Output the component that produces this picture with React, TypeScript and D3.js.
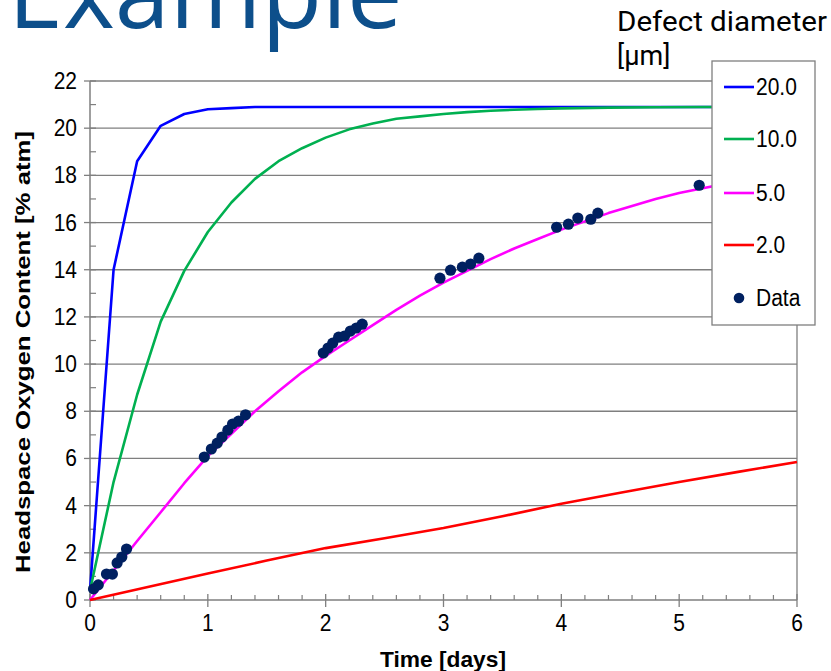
import React from 'react'
import * as d3 from 'd3'

// curve values, [days, % atm]
const d20: [number, number][] = [[0, 0.4], [0.2, 14.0], [0.4, 18.6], [0.6, 20.1], [0.8, 20.6], [1.0, 20.8], [1.2, 20.85], [1.4, 20.9], [2, 20.9], [3, 20.9], [4, 20.9], [5, 20.9], [6, 20.9]]
const d10: [number, number][] = [[0, 0.4], [0.2, 5.0], [0.4, 8.7], [0.6, 11.8], [0.8, 13.95], [1.0, 15.6], [1.2, 16.85], [1.4, 17.85], [1.6, 18.6], [1.8, 19.15], [2.0, 19.6], [2.2, 19.95], [2.4, 20.2], [2.6, 20.4], [2.8, 20.5], [3.0, 20.6], [3.2, 20.68], [3.4, 20.74], [3.6, 20.78], [3.8, 20.81], [4.0, 20.84], [4.4, 20.87], [4.8, 20.89], [5.2, 20.9], [6, 20.9]]
const d5: [number, number][] = [[0, 0], [0.2, 1.25], [0.4, 2.5], [0.6, 3.72], [0.8, 4.95], [1.0, 6.1], [1.2, 7.05], [1.4, 8.0], [1.6, 8.85], [1.8, 9.65], [2.0, 10.35], [2.2, 11.0], [2.4, 11.65], [2.6, 12.3], [2.8, 12.9], [3.0, 13.45], [3.2, 13.95], [3.4, 14.45], [3.6, 14.9], [3.8, 15.3], [4.0, 15.7], [4.2, 16.05], [4.4, 16.4], [4.6, 16.7], [4.8, 17.0], [5.0, 17.25], [5.2, 17.45], [5.4, 17.65], [5.6, 17.85], [5.8, 18.0], [6.0, 18.2]]
const d2: [number, number][] = [[0, 0], [0.5, 0.56], [1, 1.12], [1.5, 1.67], [2, 2.2], [2.5, 2.62], [3, 3.05], [3.5, 3.55], [4, 4.08], [4.5, 4.55], [5, 5.0], [5.5, 5.43], [6, 5.85]]

// measured points
const dataT = [0.03, 0.07, 0.14, 0.19, 0.23, 0.27, 0.31, 0.97, 1.03, 1.08, 1.12, 1.17, 1.21, 1.26, 1.32, 1.98, 2.02, 2.06, 2.11, 2.16, 2.21, 2.26, 2.31, 2.97, 3.06, 3.16, 3.23, 3.30, 3.96, 4.06, 4.14, 4.25, 4.31, 5.17]
const dataV = [0.47, 0.64, 1.10, 1.10, 1.57, 1.82, 2.16, 6.06, 6.40, 6.65, 6.91, 7.20, 7.46, 7.58, 7.85, 10.47, 10.68, 10.89, 11.14, 11.19, 11.40, 11.53, 11.69, 13.64, 13.98, 14.11, 14.24, 14.49, 15.80, 15.93, 16.19, 16.14, 16.40, 17.58]

const seriesNames = ['20.0', '10.0', '5.0', '2.0']
const seriesColors = ['#0000ff', '#00b050', '#ff00ff', '#ff0000']
const seriesData = [d20, d10, d5, d2]

const xTicks = [0, 1, 2, 3, 4, 5, 6]
const yTicks = [0, 2, 4, 6, 8, 10, 12, 14, 16, 18, 20, 22]

const W = 831
const H = 671
const font = "'Liberation Sans', Arial, sans-serif"
const grid = '#7f7f7f'

export default function App () {
  const x = d3.scaleLinear().domain([0, 6]).range([90, 797])
  const y = d3.scaleLinear().domain([0, 22]).range([600, 81])
  const line = d3.line<[number, number]>().x(d => x(d[0])).y(d => y(d[1]))

  const xMinor = d3.range(0, 30).map(i => i * 0.2).filter(v => Math.abs(v - Math.round(v)) > 0.01)
  const yMinor = d3.range(1, 22, 2)

  const legX = 712
  const legRows = [87, 139, 193, 245]

  return (
    <svg width={W} height={H} style={{ position: 'absolute', left: 0, top: 0, background: '#fff' }}>
      <text x={8} y={28} fontFamily="'Open Sans', sans-serif" fontSize={99} fill='#0d4f8b'>Example</text>

      {/* grid */}
      {yTicks.filter(v => v > 0).map(v => (
        <line key={'g' + v} x1={x(0)} x2={x(6)} y1={y(v)} y2={y(v)} stroke={grid} strokeWidth={1.3} />
      ))}
      <line x1={x(6)} x2={x(6)} y1={y(22)} y2={y(0)} stroke={grid} strokeWidth={1.3} />

      {/* axes */}
      <line x1={x(0)} x2={x(0)} y1={y(22)} y2={y(0)} stroke={grid} strokeWidth={1.5} />
      <line x1={x(0)} x2={x(6)} y1={y(0)} y2={y(0)} stroke={grid} strokeWidth={1.5} />
      {xTicks.map(v => (
        <g key={'xt' + v}>
          <line x1={x(v)} x2={x(v)} y1={y(0) - 6} y2={y(0) + 7} stroke={grid} strokeWidth={1.3} />
          <text transform={`translate(${x(v)},${y(0) + 31}) scale(1,1.1)`} textAnchor='middle' fontFamily={font} fontSize={21} fill='#000'>{v}</text>
        </g>
      ))}
      {xMinor.map(v => (
        <line key={'xm' + v} x1={x(v)} x2={x(v)} y1={y(0) - 5} y2={y(0)} stroke={grid} strokeWidth={1.2} />
      ))}
      {yTicks.map(v => (
        <g key={'yt' + v}>
          <line x1={x(0) - 6} x2={x(0) + 6} y1={y(v)} y2={y(v)} stroke={grid} strokeWidth={1.3} />
          <text transform={`translate(77,${y(v) + 8}) scale(1,1.1)`} textAnchor='end' fontFamily={font} fontSize={21} fill='#000'>{v}</text>
        </g>
      ))}
      {yMinor.map(v => (
        <line key={'ym' + v} x1={x(0)} x2={x(0) + 6} y1={y(v)} y2={y(v)} stroke={grid} strokeWidth={1.2} />
      ))}

      {/* model curves */}
      {seriesData.map((s, i) => (
        <path key={'s' + i} d={line(s) || ''} fill='none' stroke={seriesColors[i]} strokeWidth={2.6} strokeLinejoin='round' />
      ))}

      {/* measured data */}
      {dataT.map((t, i) => (
        <circle key={'d' + i} cx={x(t)} cy={y(dataV[i])} r={5.6} fill='#002060' />
      ))}

      {/* legend */}
      <rect x={legX} y={61} width={103} height={264} fill='#fff' stroke={grid} strokeWidth={1.3} />
      {seriesNames.map((n, i) => (
        <g key={'l' + i}>
          <line x1={724} x2={754} y1={legRows[i]} y2={legRows[i]} stroke={seriesColors[i]} strokeWidth={2.6} />
          <text transform={`translate(756,${legRows[i] + 8}) scale(1,1.1)`} fontFamily={font} fontSize={21} fill='#000'>{n}</text>
        </g>
      ))}
      <circle cx={739} cy={298} r={5.3} fill='#002060' />
      <text transform='translate(756,306) scale(1,1.1)' fontFamily={font} fontSize={21} fill='#000'>Data</text>

      <text x={617} y={31} fontFamily='Roboto, sans-serif' fontSize={27} textLength={210} lengthAdjust='spacingAndGlyphs' fill='#000'>Defect diameter</text>
      <text x={617} y={65} fontFamily='Roboto, sans-serif' fontSize={27} fill='#000'>[μm]</text>

      {/* axis titles */}
      <text x={443} y={667} textAnchor='middle' fontFamily={font} fontWeight='bold' fontSize={22} textLength={126} lengthAdjust='spacingAndGlyphs' fill='#000'>Time [days]</text>
      <text transform='translate(30,352) rotate(-90)' textAnchor='middle' fontFamily={font} fontWeight='bold' fontSize={20}
        textLength={442} lengthAdjust='spacingAndGlyphs' fill='#000'>Headspace Oxygen Content [% atm]</text>
    </svg>
  )
}
